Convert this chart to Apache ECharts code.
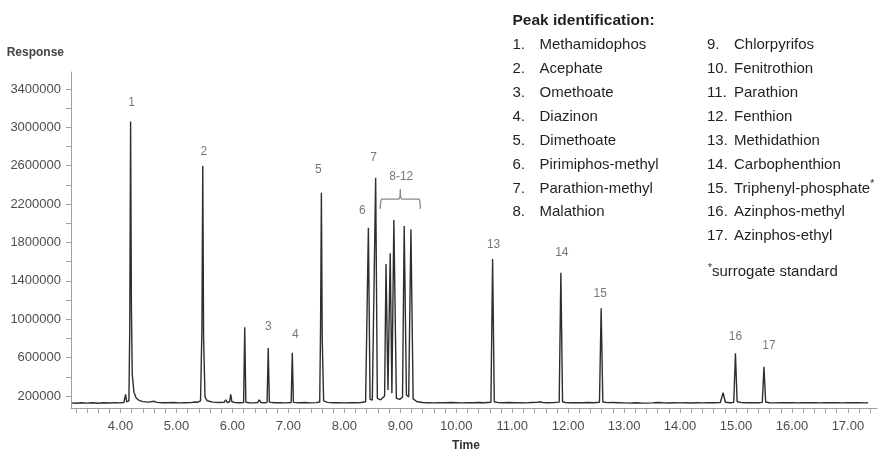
<!DOCTYPE html>
<html>
<head>
<meta charset="utf-8">
<script src="https://cdn.jsdelivr.net/npm/echarts@6/dist/echarts.min.js"></script>
<style>
html,body{margin:0;padding:0;background:#fff;}
#chart{width:885px;height:451px;}
</style>
</head>
<body>
<div id="chart"></div>
<script>
// ---- Data ----
const times = [
  3.13,3.2,3.3,3.4,3.5,3.6,3.7,3.8,3.9,4.0,4.06,4.09,4.11,4.15,4.165,4.18,4.195,4.21,4.24,4.28,4.33,4.4,4.5,4.6,4.65,4.75,4.85,4.95,5.05,5.15,5.25,5.33,5.38,5.43,5.455,5.47,5.485,5.51,5.55,5.65,5.75,5.85,5.88,5.91,5.95,5.97,5.99,6.05,6.12,6.2,6.22,6.24,6.3,6.4,6.45,6.48,6.51,6.58,6.62,6.64,6.66,6.75,6.85,6.95,7.05,7.07,7.09,7.2,7.3,7.4,7.5,7.56,7.575,7.59,7.605,7.63,7.7,7.8,7.9,8.0,8.1,8.2,8.3,8.38,8.4,8.43,8.46,8.5,8.53,8.56,8.59,8.65,8.72,8.745,8.78,8.82,8.85,8.885,8.93,8.99,9.04,9.07,9.11,9.15,9.19,9.23,9.3,9.4,9.5,9.6,9.7,9.8,9.9,10.0,10.1,10.2,10.3,10.4,10.5,10.62,10.65,10.68,10.75,10.85,10.95,11.05,11.15,11.25,11.35,11.45,11.5,11.55,11.65,11.75,11.84,11.87,11.9,11.95,12.05,12.15,12.25,12.35,12.45,12.56,12.59,12.62,12.7,12.8,12.9,13.0,13.1,13.2,13.3,13.4,13.5,13.6,13.7,13.8,13.9,14.0,14.1,14.2,14.3,14.4,14.5,14.6,14.72,14.77,14.81,14.9,14.96,14.99,15.02,15.1,15.2,15.3,15.4,15.47,15.5,15.53,15.6,15.7,15.8,15.9,16.0,16.1,16.2,16.3,16.4,16.5,16.6,16.7,16.8,16.9,17.0,17.1,17.2,17.3,17.36
];
const responses = [
  128000,125000,130000,126000,129000,124000,130000,127000,131000,128000,132000,218000,138000,150000,900000,3060000,1100000,420000,240000,180000,155000,142000,136000,145000,134000,130000,129000,132000,128000,130000,131000,138000,135000,150000,900000,2600000,800000,190000,150000,136000,132000,134000,160000,132000,140000,218000,140000,131000,129000,132000,916000,135000,130000,128000,132000,160000,131000,130000,134000,700000,136000,130000,131000,128000,132000,651000,134000,130000,132000,128000,131000,138000,900000,2319000,800000,150000,134000,130000,131000,128000,131000,130000,132000,140000,160000,1954000,165000,158000,175000,2475000,175000,160000,200000,1576000,262000,1687000,230000,2034000,175000,165000,190000,1972000,210000,190000,1937000,170000,140000,132000,130000,128000,131000,129000,132000,130000,128000,131000,129000,133000,130000,135000,1628000,140000,131000,129000,132000,130000,131000,128000,132000,134000,140000,131000,130000,133000,136000,1485000,140000,132000,130000,131000,129000,132000,130000,135000,1114000,138000,131000,132000,130000,128000,126000,129000,127000,126000,128000,133000,129000,127000,130000,128000,130000,127000,129000,128000,130000,129000,133000,234000,135000,130000,134000,645000,140000,131000,129000,131000,129000,134000,505000,138000,130000,128000,131000,129000,130000,128000,131000,129000,130000,128000,131000,129000,130000,128000,131000,129000,130000,128000,129000
];

// Peak number labels (placed at the apex of each labelled peak)
const peakLabelTexts  = ['1','2','3','4','5','6','7','13','14','15','16','17'];
const peakLabelTimes  = [4.18,5.47,6.64,7.07,7.59,8.43,8.56,10.65,11.87,12.59,14.99,15.50];
const peakLabelValues = [3060000,2600000,700000,651000,2319000,1954000,2475000,1628000,1485000,1114000,645000,505000];

// Brace grouping peaks 8-12
const braceTimes  = [8.64,8.648,8.665,8.975,8.995,9.0,9.005,9.025,9.335,9.352,9.36];
const braceValues = [2150000,2225000,2253000,2253000,2275000,2357000,2275000,2253000,2253000,2225000,2150000];
const braceLabel = '8-12';

// Axis ticks and labels
const yLabelValues = [200000,600000,1000000,1400000,1800000,2200000,2600000,3000000,3400000];
const yTickValues  = [200000,400000,600000,800000,1000000,1200000,1400000,1600000,1800000,2000000,2200000,2400000,2600000,2800000,3000000,3200000,3400000];
const xLabelValues = [4,5,6,7,8,9,10,11,12,13,14,15,16,17];
const xTickLabels  = ['4.00','5.00','6.00','7.00','8.00','9.00','10.00','11.00','12.00','13.00','14.00','15.00','16.00','17.00'];
const xTickValues  = [3.2,3.4,3.6,3.8,4.0,4.2,4.4,4.6,4.8,5.0,5.2,5.4,5.6,5.8,6.0,6.2,6.4,6.6,6.8,7.0,7.2,7.4,7.6,7.8,8.0,8.2,8.4,8.6,8.8,9.0,9.2,9.4,9.6,9.8,10.0,10.2,10.4,10.6,10.8,11.0,11.2,11.4,11.6,11.8,12.0,12.2,12.4,12.6,12.8,13.0,13.2,13.4,13.6,13.8,14.0,14.2,14.4,14.6,14.8,15.0,15.2,15.4,15.6,15.8,16.0,16.2,16.4,16.6,16.8,17.0,17.2,17.4];

// Peak identification list
const listTitle = 'Peak identification:';
const compoundNumbers = ['1.','2.','3.','4.','5.','6.','7.','8.','9.','10.','11.','12.','13.','14.','15.','16.','17.'];
const compoundNames = ['Methamidophos','Acephate','Omethoate','Diazinon','Dimethoate','Pirimiphos-methyl','Parathion-methyl','Malathion',
  'Chlorpyrifos','Fenitrothion','Parathion','Fenthion','Methidathion','Carbophenthion','Triphenyl-phosphate*','Azinphos-methyl','Azinphos-ethyl'];
const footnote = '*surrogate standard';

// ---- Styles / layout ----
const FONT = '"Liberation Sans", Arial, sans-serif';
const peakLabelOffsets = [[1,-19],[1,-14],[0,-21],[3,-18],[-3,-23],[-6,-17],[-2,-20],[1,-14],[1,-20],[-1,-15],[0,-17],[5,-21]];
const braceLabelOffset = [1,-12];

const chart = echarts.init(document.getElementById('chart'), null, {renderer:'canvas'});

const signal = times.map((t,i)=>[t, responses[i]]);
const labelData = peakLabelTimes.map((t,i)=>({
  value:[t, peakLabelValues[i]],
  name: peakLabelTexts[i],
  label:{offset: peakLabelOffsets[i]}
}));
const braceTipIdx = braceValues.indexOf(Math.max(...braceValues));
labelData.push({value:[braceTimes[braceTipIdx], braceValues[braceTipIdx]], name: braceLabel, label:{offset: braceLabelOffset}});

// legend graphics
const graphics = [];
const rowY0 = 45, rowStep = 23.9;
graphics.push({type:'text', style:{x:512.5, y:20.5, text:listTitle, font:'bold 15.5px '+FONT, fill:'#231f20', verticalAlign:'middle'}});
compoundNames.forEach((nm,i)=>{
  const col = i < 8 ? 0 : 1;
  const row = i < 8 ? i : i - 8;
  const y = rowY0 + row*rowStep;
  const xn = col === 0 ? 512.5 : 707;
  const xt = col === 0 ? 539.5 : 734;
  graphics.push({type:'text', style:{x:xn, y:y, text:compoundNumbers[i], font:'15px '+FONT, fill:'#231f20', verticalAlign:'middle'}});
  let txt = nm;
  if (nm.endsWith('*')) { txt = nm.slice(0,-1) + '{s|*}'; }
  graphics.push({type:'text', style:{x:xt, y:y, text:txt, font:'15px '+FONT, fill:'#231f20', verticalAlign:'middle',
    rich:{s:{fontSize:10, fontFamily:FONT, fill:'#231f20', padding:[0,0,8,0]}}}});
});
graphics.push({type:'text', style:{x:708, y:272, text:'{s|*}'+footnote.slice(1), font:'15px '+FONT, fill:'#231f20', verticalAlign:'middle',
  rich:{s:{fontSize:10, fontFamily:FONT, fill:'#231f20', padding:[0,0,8,0]}}}});

const option = {
  animation:false,
  backgroundColor:'#ffffff',
  grid:{left:71, right:8, top:72, bottom:43, containLabel:false, outerBoundsMode:'none'},
  xAxis:{
    type:'value', min:3.115, max:17.52,
    name:'Time', nameLocation:'middle', nameGap:32,
    nameTextStyle:{fontFamily:FONT, fontWeight:'bold', fontSize:12, color:'#333', padding:[0,16,0,0]},
    axisLine:{show:true, onZero:false, lineStyle:{color:'#a0a0a0', width:1}},
    axisTick:{show:true, length:5, customValues:xTickValues, lineStyle:{color:'#a0a0a0'}},
    axisLabel:{customValues:xLabelValues, margin:12, fontFamily:FONT, fontSize:13, color:'#4d4d4d',
      formatter:(v)=>{const k=xLabelValues.indexOf(Math.round(v)); return k>=0?xTickLabels[k]:'';}},
    splitLine:{show:false}
  },
  yAxis:{
    type:'value', min:75000, max:3577000,
    name:'Response', nameLocation:'end', nameGap:13,
    nameTextStyle:{fontFamily:FONT, fontWeight:'bold', fontSize:12, color:'#444', align:'right', padding:[0,7,0,0]},
    axisLine:{show:true, lineStyle:{color:'#a0a0a0', width:1}},
    axisTick:{show:true, length:5, customValues:yTickValues, lineStyle:{color:'#a0a0a0'}},
    axisLabel:{customValues:yLabelValues, margin:10, fontFamily:FONT, fontSize:13, color:'#4d4d4d',
      formatter:(v)=>String(Math.round(v))},
    splitLine:{show:false}
  },
  graphic: graphics,
  series:[
    {type:'line', data:signal, showSymbol:false, symbol:'none', lineStyle:{color:'#2e2e2e', width:1.4}, z:3},
    {type:'line', data:braceTimes.map((t,i)=>[t,braceValues[i]]), showSymbol:false, symbol:'none', lineStyle:{color:'#8a8a8a', width:1.3}, z:2},
    {type:'scatter', data:labelData, symbolSize:0, silent:true,
      label:{show:true, position:'inside', formatter:(p)=>p.name, fontFamily:FONT, fontSize:12, color:'#555', align:'center', verticalAlign:'middle'}, z:4}
  ]
};
chart.setOption(option);
</script>
</body>
</html>
